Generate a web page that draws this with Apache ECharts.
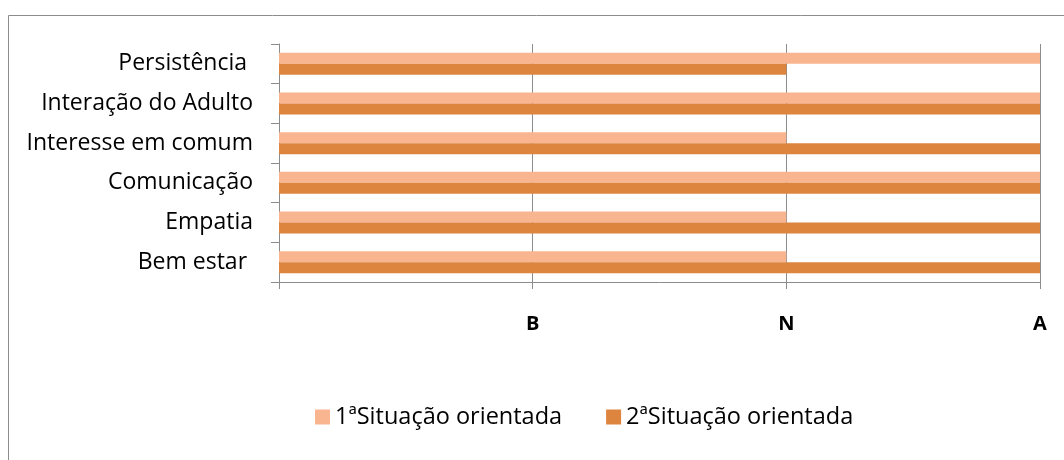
<!DOCTYPE html>
<html>
<head>
<meta charset="utf-8">
<script src="https://cdn.jsdelivr.net/npm/echarts@6/dist/echarts.min.js"></script>
<style>
    html, body { margin: 0; padding: 0; background: #fff; }
    #main { width: 1064px; height: 460px; }
</style>
</head>
<body>
<div id="main"></div>
<script>
var categories = ['Bem estar ', 'Empatia', 'Comunicação', 'Interesse em comum', 'Interação do Adulto', 'Persistência '];
var serie1 = [2, 2, 3, 2, 3, 3];   // 1ªSituação orientada
var serie2 = [3, 3, 3, 3, 3, 2];   // 2ªSituação orientada
var tickLabels = ['', 'B', 'N', 'A'];

var myChart = echarts.init(document.getElementById('main'));
var option = {
    animation: false,
    textStyle: {fontFamily: 'Open Sans'},
    graphic: [{
        type: 'rect',
        shape: {x: 8.5, y: 15.5, width: 1200, height: 600},
        style: {fill: 'none', stroke: '#8c8c8c', lineWidth: 1},
        silent: true
    }],
    grid: {left: 279, right: 24, top: 44, bottom: 178, containLabel: false},
    legend: {
        data: ['1ªSituação orientada', '2ªSituação orientada'],
        top: 400,
        left: 310,
        itemWidth: 15,
        itemHeight: 15,
        itemGap: 44,
        icon: 'rect',
        textStyle: {fontSize: 23.5, color: '#000', fontFamily: 'Open Sans'}
    },
    xAxis: {
        type: 'value',
        min: 0,
        max: 3,
        interval: 1,
        axisLine: {show: true, lineStyle: {color: '#8c8c8c'}},
        axisTick: {show: true, length: 7, lineStyle: {color: '#8c8c8c'}},
        splitLine: {show: true, lineStyle: {color: '#8c8c8c'}},
        axisLabel: {
            margin: 32,
            fontSize: 20,
            fontWeight: 'bold',
            color: '#000',
            formatter: function (v) { return tickLabels[v] || ''; }
        }
    },
    yAxis: {
        type: 'category',
        data: categories,
        axisLine: {show: true, lineStyle: {color: '#8c8c8c'}},
        axisTick: {show: true, length: 8, lineStyle: {color: '#8c8c8c'}},
        axisLabel: {margin: 26, fontSize: 23, color: '#000'}
    },
    series: [
        {
            name: '1ªSituação orientada',
            type: 'bar',
            data: serie1,
            barWidth: 11,
            barGap: '0%',
            itemStyle: {color: '#f9b58f'}
        },
        {
            name: '2ªSituação orientada',
            type: 'bar',
            data: serie2,
            barWidth: 11,
            barGap: '0%',
            itemStyle: {color: '#dd843f'}
        }
    ]
};
myChart.setOption(option);
</script>
</body>
</html>
